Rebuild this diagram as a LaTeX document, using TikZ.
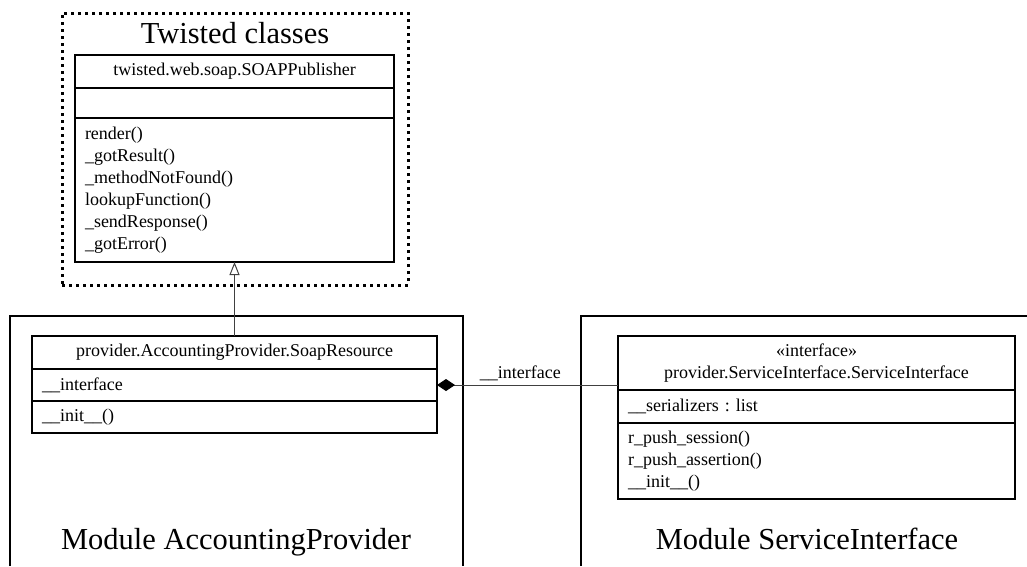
\documentclass[tikz,border=0pt]{standalone}
\usepackage{fontspec}
\setmainfont{Liberation Serif}
\usepackage{tikz}
\usetikzlibrary{arrows.meta, positioning}

\begin{document}
\begin{tikzpicture}[
        x=1pt, y=-1pt,
        every node/.style={font=\fontsize{18}{22}\selectfont\frenchspacing, outer sep=0pt},
        % Styles
        classpart/.style={
            rectangle,
            draw=black,
            line width=1.2pt,
            inner xsep=10pt,
            inner ysep=0pt,
            text width=#1
          },
        bigtitle/.style={
            font=\fontsize{30.5}{34}\selectfont,
            anchor=base
          },
        module/.style={
            draw=black,
            line width=2pt
          },
        twistedframe/.style={
            rectangle,
            draw=black,
            line width=3pt,
            dash pattern=on 3pt off 4pt
          },
        inherit/.style={
            -{Triangle[open, length=13pt, width=10pt]},
            draw=black!75,
            line width=1pt
          },
        compose/.style={
            {Diamond[length=18pt, width=12pt, black]}-,
            draw=black!75,
            line width=1pt
          }
      ]
      \useasboundingbox (0,0) rectangle (1027,566);

      % Twisted classes
      \node[twistedframe, minimum width=346pt, minimum height=272pt] (twisted) at (235,149) {};
      \node[bigtitle] (twistedlabel) at (235,43) {Twisted classes};

      \node[classpart=299pt, align=center, minimum height=33pt] (pubname) at (234.5,71.5) {twisted.web.soap.SOAPPublisher};
      \node[classpart=299pt, minimum height=30pt, below=0pt of pubname] (pubattr) {};
      \node[classpart=299pt, align=left, minimum height=144pt, below=0pt of pubattr] (pubmeth)
        {render()\\\_gotResult()\\\_methodNotFound()\\lookupFunction()\\\_sendResponse()\\\_gotError()};

      % Module AccountingProvider
      \draw[module] (9.5,566) |- (463,316) -- (463,566);
      \node[bigtitle] (provlabel) at (236,549) {Module AccountingProvider};

      \node[classpart=385pt, align=center, minimum height=33pt] (soapname) at (234.5,352.5) {provider.AccountingProvider.SoapResource};
      \node[classpart=385pt, align=left, minimum height=32pt, below=0pt of soapname] (soapattr) {\_\_interface};
      \node[classpart=385pt, align=left, minimum height=32pt, below=0pt of soapattr] (soapmeth) {\_\_init\_\_()};

      % Module ServiceInterface
      \draw[module] (581,566) |- (1027,316);
      \node[bigtitle] (ifacelabel) at (807,549) {Module ServiceInterface};

      \node[classpart=377pt, align=center, minimum height=54pt] (ifacename) at (816.5,363)
        {«interface»\\provider.ServiceInterface.ServiceInterface};
      \node[classpart=377pt, align=left, minimum height=33pt, below=0pt of ifacename] (ifaceattr) {\_\_serializers : list};
      \node[classpart=377pt, align=left, minimum height=76pt, below=0pt of ifaceattr] (ifacemeth)
        {r\_push\_session()\\r\_push\_assertion()\\\_\_init\_\_()};

      % Connectors
      \draw[inherit] (soapname.north) -- (pubmeth.south);
      \draw[compose] (soapattr.east) -- node[pos=0.46, anchor=base, yshift=7pt] {\_\_interface} (ifacename.west |- soapattr.east);

    \end{tikzpicture}
\end{document}
